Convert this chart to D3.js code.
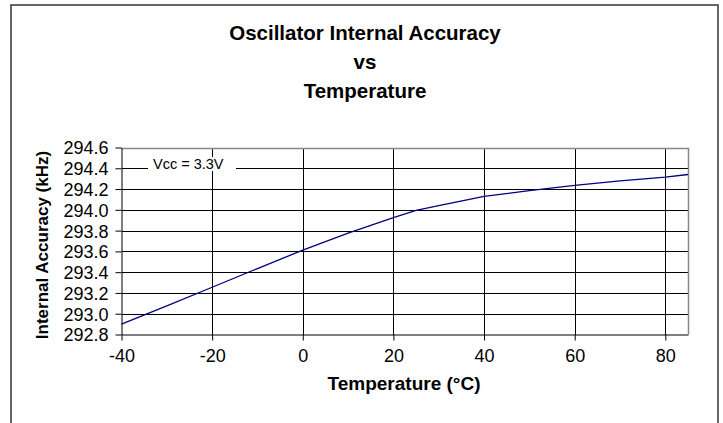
<!DOCTYPE html>
<html>
<head>
<meta charset="utf-8">
<script src="https://cdn.jsdelivr.net/npm/d3@7"></script>
<style>
html,body{margin:0;padding:0;background:#fff;}
svg{display:block;}
text{font-family:"Liberation Sans",Arial,sans-serif;fill:#000;}
</style>
</head>
<body>
<svg id="chart" width="723" height="423"></svg>
<script>
const temperatures = [-40, -30, -20, -10, 0, 10, 20, 25, 30, 40, 50, 60, 70, 80, 85];
const accuracyKHz = [292.90, 293.075, 293.255, 293.435, 293.612, 293.775, 293.925, 293.995, 294.04, 294.13, 294.185, 294.235, 294.278, 294.315, 294.34];
const xTicks = [-40, -20, 0, 20, 40, 60, 80];
const yTicks = [292.8, 293.0, 293.2, 293.4, 293.6, 293.8, 294.0, 294.2, 294.4, 294.6];
const titleLines = ["Oscillator Internal Accuracy", "vs", "Temperature"];
const xLabel = "Temperature (°C)";
const yLabel = "Internal Accuracy (kHz)";
const legendLabel = "Vcc = 3.3V";

const svg = d3.select("#chart");
const L = 121.5, R = 688, T = 147.5, B = 334.5;

// outer frame
svg.append("rect").attr("x", 11).attr("y", 5).attr("width", 707).attr("height", 425)
  .attr("fill", "none").attr("stroke", "#333").attr("stroke-width", 1.5);

const x = d3.scaleLinear().domain([-40, 85]).range([L, R]);
const y = d3.scaleLinear().domain([292.8, 294.6]).range([B, T]);

// title
svg.append("g").selectAll("text").data(titleLines).join("text")
  .attr("x", 365).attr("y", (d, i) => 40 + i * 29)
  .attr("text-anchor", "middle").attr("font-weight", "bold").attr("font-size", 20.5)
  .text(d => d);

// gridlines
const grid = svg.append("g").attr("shape-rendering", "crispEdges");
grid.selectAll("line.h").data(yTicks.slice(1, -1)).join("line").attr("class", "h")
  .attr("x1", L).attr("x2", R).attr("y1", d => Math.round(y(d)) + 0.5).attr("y2", d => Math.round(y(d)) + 0.5)
  .attr("stroke", "#000").attr("stroke-width", 1);
grid.selectAll("line.v").data(xTicks.slice(1)).join("line").attr("class", "v")
  .attr("y1", T).attr("y2", B).attr("x1", d => Math.round(x(d)) + 0.5).attr("x2", d => Math.round(x(d)) + 0.5)
  .attr("stroke", "#000").attr("stroke-width", 1);

// plot border top/right
svg.append("path")
  .attr("d", `M${L},${Math.round(T)+0.5}H${Math.round(R)+0.5}V${B}`)
  .attr("fill", "none").attr("stroke", "#888").attr("stroke-width", 1.5);

// axes
const xAxis = svg.append("g").attr("transform", `translate(0,${B})`)
  .call(d3.axisBottom(x).tickValues(xTicks).tickSize(6).tickSizeOuter(0).tickPadding(9).tickFormat(d => String(d)));
const yAxis = svg.append("g").attr("transform", `translate(${L},0)`)
  .call(d3.axisLeft(y).tickValues(yTicks).tickSize(6).tickSizeOuter(0).tickPadding(7).tickFormat(d3.format(".1f")));
[xAxis, yAxis].forEach(a => {
  a.selectAll("path,line").attr("stroke", "#000").attr("stroke-width", 1);
  a.selectAll("text").attr("font-size", 18).attr("fill", "#000").attr("font-family", '"Liberation Sans",Arial,sans-serif');
});
yAxis.selectAll("text").attr("dy", "0.36em");

// legend box
const lg = svg.append("g");
lg.append("rect").attr("x", 148).attr("y", 157).attr("width", 88).attr("height", 14).attr("fill", "#fff");
lg.append("text").attr("x", 153).attr("y", 168.5).attr("font-size", 14.5).text(legendLabel);

// data line
const line = d3.line().x((d, i) => x(temperatures[i])).y(d => y(d));
svg.append("path").datum(accuracyKHz).attr("d", line)
  .attr("fill", "none").attr("stroke", "#000080").attr("stroke-width", 1.3);

// axis titles
svg.append("text").attr("x", 404).attr("y", 390).attr("text-anchor", "middle")
  .attr("font-weight", "bold").attr("font-size", 19).text(xLabel);
svg.append("text").attr("transform", "translate(48,245) rotate(-90)").attr("text-anchor", "middle")
  .attr("font-weight", "bold").attr("font-size", 17).text(yLabel);
</script>
</body>
</html>
